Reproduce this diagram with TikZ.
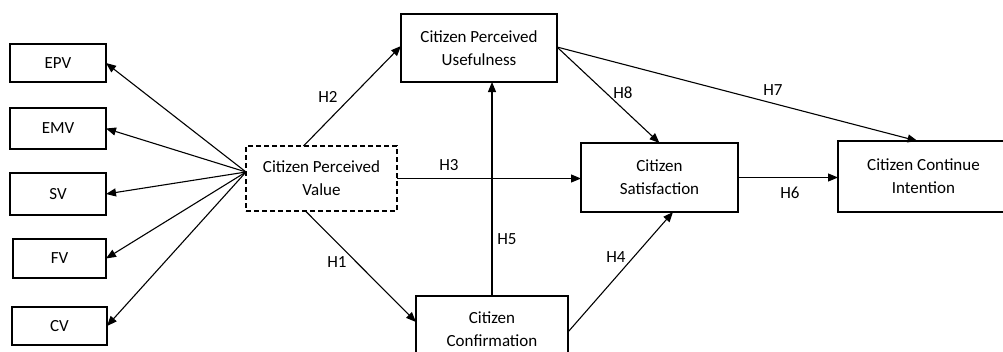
\documentclass[tikz,border=0pt]{standalone}
\usepackage{fontspec}
\setmainfont{Carlito}
\usetikzlibrary{arrows.meta,calc}
\begin{document}
\begin{tikzpicture}[x=1pt,y=-1pt,
  box/.style={draw, line width=1.1pt, rectangle, inner sep=0pt, outer sep=0pt, align=center,
    font=\fontsize{17}{23}\selectfont},
  dbox/.style={box, dash pattern=on 5pt off 3pt},
  conn/.style={line width=1.1pt, -{Triangle[length=10pt,width=8pt]}},
  lab/.style={font=\fontsize{17}{23}\selectfont, inner sep=0pt}]
\useasboundingbox (0,0) rectangle (1003,351);
\clip (0,0) rectangle (1003,351);
% left boxes
\node[box, minimum width=96pt, minimum height=38pt] (epv) at (58,63) {EPV};
\node[box, minimum width=96pt, minimum height=41pt] (emv) at (58,128.5) {EMV};
\node[box, minimum width=96pt, minimum height=42pt] (sv) at (58,194) {SV};
\node[box, minimum width=93pt, minimum height=39pt] (fv) at (59.5,258.5) {FV};
\node[box, minimum width=95pt, minimum height=38pt] (cv) at (59.5,326) {CV};
% main boxes
\node[dbox, minimum width=151pt, minimum height=65pt] (cpv) at (321.5,178.5) {Citizen Perceived\\Value};
\node[box, minimum width=156pt, minimum height=68pt] (cpu) at (479,48) {Citizen Perceived\\Usefulness};
\node[box, minimum width=157pt, minimum height=69pt] (sat) at (659.5,177.5) {Citizen\\Satisfaction};
\node[box, minimum width=152pt, minimum height=66pt] (conf) at (492,329) {Citizen\\Confirmation};
\node[box, minimum width=171pt, minimum height=71pt] (cci) at (923.5,176.5) {Citizen Continue\\Intention};
% hub
\coordinate (hub) at ([yshift=6.5pt]cpv.west);
\draw[conn] (hub) -- (epv.east);
\draw[conn] (hub) -- (emv.east);
\draw[conn] (hub) -- (sv.east);
\draw[conn] (hub) -- (fv.east);
\draw[conn] (hub) -- (cv.east);
% hypotheses
\draw[conn] ([xshift=-18pt]cpv.north) -- ([yshift=2pt]cpu.west);
\draw[conn] ([xshift=-16pt]cpv.south) -- ([yshift=7pt]conf.west);
\draw[conn] (cpv.east) -- (cpv.east -| sat.west);
\draw[conn] (conf.north) -- (conf.north |- cpu.south);
\draw[conn] ([yshift=-3pt]conf.east) -- ([xshift=13.5pt]sat.south);
\draw[conn] ([yshift=1pt]cpu.east) -- (sat.north);
\draw[conn] ([yshift=1pt]cpu.east) -- ([xshift=-6pt]cci.north);
\draw[conn] (sat.east) -- (sat.east -| cci.west);
% labels
\node[lab] (h2) at (328,97) {H2};
\node[lab] (h3) at (449,165) {H3};
\node[lab] (h1) at (337,262) {H1};
\node[lab] (h5) at (507,239) {H5};
\node[lab] (h4) at (616,257) {H4};
\node[lab] (h8) at (623,93) {H8};
\node[lab] (h7) at (773,90) {H7};
\node[lab] (h6) at (790,193) {H6};
\end{tikzpicture}
\end{document}
